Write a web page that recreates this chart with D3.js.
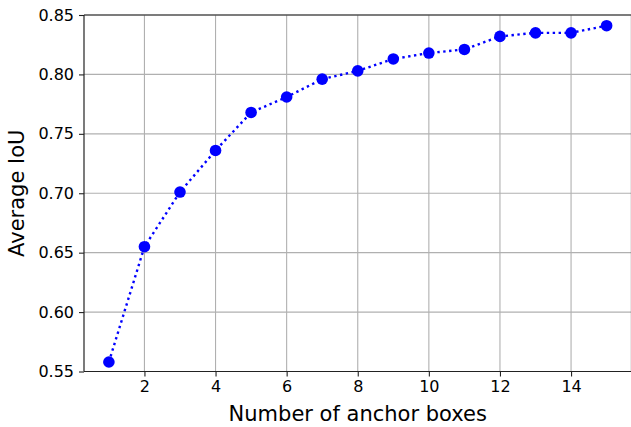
<!DOCTYPE html>
<html>
<head>
<meta charset="utf-8">
<script src="https://cdn.jsdelivr.net/npm/d3@7"></script>
<style>
  html, body { margin: 0; padding: 0; background: #fff; }
  svg { display: block; }
  text { font-family: "DejaVu Sans", sans-serif; fill: #000; }
</style>
</head>
<body>
<svg id="chart" width="631" height="427"></svg>
<script>
// Number of anchor boxes (k) and the resulting average IoU
const anchorCounts = [1, 2, 3, 4, 5, 6, 7, 8, 9, 10, 11, 12, 13, 14, 15];
const avgIoU = [0.558, 0.655, 0.701, 0.736, 0.768, 0.781, 0.796, 0.803, 0.813, 0.818, 0.821, 0.832, 0.835, 0.835, 0.841];
const xTicks = [2, 4, 6, 8, 10, 12, 14];
const yTicks = [0.55, 0.60, 0.65, 0.70, 0.75, 0.80, 0.85];
const xLabel = "Number of anchor boxes";
const yLabel = "Average IoU";

const W = 631, H = 427;
const margin = { left: 84, top: 15, right: -0.5, bottom: 55.5 };
const plotW = W - margin.left - margin.right;
const plotH = H - margin.top - margin.bottom;

const svg = d3.select("#chart");
const g = svg.append("g").attr("transform", `translate(${margin.left},${margin.top})`);

const x = d3.scaleLinear().domain([0.3, 15.7]).range([0, plotW]);
const y = d3.scaleLinear().domain([0.55, 0.85]).range([plotH, 0]);

// grid lines
g.append("g").selectAll("line").data(xTicks).join("line")
  .attr("x1", d => x(d)).attr("x2", d => x(d))
  .attr("y1", 0).attr("y2", plotH)
  .attr("stroke", "#b0b0b0").attr("stroke-width", 1.1);
g.append("g").selectAll("line").data(yTicks).join("line")
  .attr("x1", 0).attr("x2", plotW)
  .attr("y1", d => y(d)).attr("y2", d => y(d))
  .attr("stroke", "#b0b0b0").attr("stroke-width", 1.1);

// axes
const xAxis = g.append("g").attr("transform", `translate(0,${plotH})`)
  .call(d3.axisBottom(x).tickValues(xTicks).tickFormat(d3.format("d")).tickSizeInner(5).tickSizeOuter(0).tickPadding(4));
const yAxis = g.append("g")
  .call(d3.axisLeft(y).tickValues(yTicks).tickFormat(d3.format(".2f")).tickSizeInner(5).tickSizeOuter(0).tickPadding(5));
[xAxis, yAxis].forEach(a => {
  a.select(".domain").remove();
  a.selectAll(".tick line").attr("stroke", "#222").attr("stroke-width", 1.1);
  a.selectAll(".tick text").attr("font-size", 16).attr("font-family", "DejaVu Sans").attr("fill", "#000");
});

// spines
const spine = g.append("g").attr("stroke", "#222").attr("stroke-width", 1.2).attr("fill", "none");
spine.append("line").attr("x1", 0).attr("x2", plotW).attr("y1", 0).attr("y2", 0);
spine.append("line").attr("x1", 0).attr("x2", plotW).attr("y1", plotH).attr("y2", plotH);
spine.append("line").attr("x1", 0).attr("x2", 0).attr("y1", 0).attr("y2", plotH);
spine.append("line").attr("x1", plotW).attr("x2", plotW).attr("y1", 0).attr("y2", plotH);

// dotted series line
const line = d3.line().x((d, i) => x(anchorCounts[i])).y(d => y(d));
g.append("path").datum(avgIoU)
  .attr("d", line)
  .attr("fill", "none")
  .attr("stroke", "#0000ff")
  .attr("stroke-width", 2.4)
  .attr("stroke-dasharray", "2.4,3.5");

// markers
g.append("g").selectAll("circle").data(avgIoU).join("circle")
  .attr("cx", (d, i) => x(anchorCounts[i]))
  .attr("cy", d => y(d))
  .attr("r", 5.8)
  .attr("fill", "#0000ff");

// axis titles
svg.append("text")
  .attr("x", margin.left + x(8)).attr("y", 421)
  .attr("text-anchor", "middle").attr("font-size", 21)
  .text(xLabel);
svg.append("text")
  .attr("transform", `translate(24,${margin.top + plotH / 2}) rotate(-90)`)
  .attr("text-anchor", "middle").attr("font-size", 21)
  .text(yLabel);
</script>
</body>
</html>
